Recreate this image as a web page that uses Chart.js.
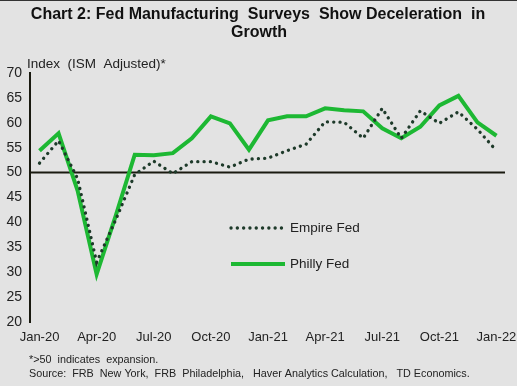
<!DOCTYPE html>
<html>
<head>
<meta charset="utf-8">
<script src="https://cdn.jsdelivr.net/npm/chart.js@4.4.0/dist/chart.umd.min.js"></script>
<style>
  html, body { margin: 0; padding: 0; background: #e3e3e3; }
  #wrap { width: 517px; height: 386px; position: relative; border-top: 1px solid #333; box-sizing: border-box; }
  canvas { display: block; }
</style>
</head>
<body>
<div id="wrap"><canvas id="c" width="517" height="385"></canvas></div>
<script>
const months = ['Jan-20','Feb-20','Mar-20','Apr-20','May-20','Jun-20','Jul-20','Aug-20','Sep-20','Oct-20','Nov-20','Dec-20',
                'Jan-21','Feb-21','Mar-21','Apr-21','May-21','Jun-21','Jul-21','Aug-21','Sep-21','Oct-21','Nov-21','Dec-21','Jan-22'];
const empireFed = [51.9, 56.4, 48.8, 32.0, 40.5, 49.6, 52.3, 49.8, 52.2, 52.2, 51.1, 52.7,
                   52.9, 54.4, 55.7, 60.2, 60.1, 56.9, 62.9, 56.9, 62.4, 59.9, 62.2, 58.7, 54.4];
const phillyFed = [54.4, 57.9, 46.4, 29.6, 41.3, 53.6, 53.5, 53.9, 56.9, 61.3, 59.9, 54.6,
                   60.5, 61.3, 61.3, 62.9, 62.5, 62.3, 58.9, 56.9, 59.2, 63.5, 65.4, 60.1, 57.4];
const yTicks = { min: 20, max: 70, step: 5 };
const refLine = 50;
const titleLines = ['Chart 2: Fed Manufacturing  Surveys  Show Deceleration  in', 'Growth'];
const axisTitle = 'Index  (ISM  Adjusted)*';
const notes = ['*>50  indicates  expansion.', 'Source:  FRB  New York,  FRB  Philadelphia,   Haver Analytics Calculation,   TD Economics.'];

const FONT = '"Liberation Sans", Arial, sans-serif';

const decor = {
  id: 'decor',
  beforeDatasetsDraw(chart) {
    const ctx = chart.ctx, y = chart.scales.y, a = chart.chartArea;
    const py = y.getPixelForValue(refLine);
    ctx.save();
    ctx.strokeStyle = '#1a1a10';
    ctx.lineWidth = 2;
    ctx.beginPath();
    ctx.moveTo(a.left, py);
    ctx.lineTo(a.right - 1, py);
    ctx.stroke();
    ctx.restore();
  },
  afterDraw(chart) {
    const ctx = chart.ctx;
    ctx.save();
    ctx.fillStyle = '#111';
    ctx.textAlign = 'center';
    ctx.textBaseline = 'middle';
    ctx.font = 'bold 16px ' + FONT;
    ctx.fillText(titleLines[0], 258, 14);
    ctx.fillText(titleLines[1], 259, 32);
    ctx.textAlign = 'left';
    ctx.font = '13.5px ' + FONT;
    ctx.fillStyle = '#222';
    ctx.fillText(axisTitle, 27, 63);
    ctx.font = '10.8px ' + FONT;
    ctx.fillText(notes[0], 29, 359);
    ctx.fillText(notes[1], 29, 373);
    const lg = [
      { label: chart.data.datasets[0].label, ds: chart.data.datasets[0], y: 227 },
      { label: chart.data.datasets[1].label, ds: chart.data.datasets[1], y: 263 }
    ];
    lg.forEach(item => {
      ctx.save();
      ctx.strokeStyle = item.ds.borderColor;
      ctx.lineWidth = item.ds.borderWidth;
      ctx.lineCap = item.ds.borderCapStyle || 'butt';
      ctx.setLineDash(item.ds.borderDash || []);
      ctx.beginPath();
      ctx.moveTo(231, item.y);
      ctx.lineTo(285, item.y);
      ctx.stroke();
      ctx.restore();
      ctx.font = '13.5px ' + FONT;
      ctx.fillStyle = '#222';
      ctx.fillText(item.label, 290, item.y);
    });
    ctx.restore();
  }
};

new Chart(document.getElementById('c'), {
  type: 'line',
  data: {
    labels: months,
    datasets: [
      { label: 'Empire Fed', data: empireFed, borderColor: '#1e3a2a', borderWidth: 3.3,
        borderDash: [0.1, 6.2], borderCapStyle: 'round', pointRadius: 0, tension: 0, fill: false },
      { label: 'Philly Fed', data: phillyFed, borderColor: '#1db833', borderWidth: 4,
        borderCapStyle: 'butt', borderJoinStyle: 'miter', pointRadius: 0, tension: 0, fill: false }
    ]
  },
  options: {
    responsive: false,
    animation: false,
    layout: { padding: { top: 72, right: 11, bottom: 36, left: 0 } },
    plugins: { legend: { display: false }, title: { display: false }, tooltip: { enabled: false } },
    scales: {
      x: {
        type: 'category',
        offset: true,
        grid: { display: false, drawTicks: false },
        border: { display: false },
        ticks: {
          autoSkip: false, maxRotation: 0, padding: 8,
          color: '#222', font: { family: FONT, size: 13 },
          callback: function(v, i) { return i % 3 === 0 ? this.getLabelForValue(v) : ''; }
        },
        afterFit(s) { s.height = 28; s.paddingLeft = 0; s.paddingRight = 0; }
      },
      y: {
        min: yTicks.min, max: yTicks.max,
        grid: { display: false, drawTicks: false },
        border: { display: true, color: '#1a1a10', width: 2 },
        ticks: { stepSize: yTicks.step, padding: 8, color: '#222', font: { family: FONT, size: 14 } },
        afterFit(s) { s.width = 30; s.paddingTop = 0; s.paddingBottom = 0; }
      }
    }
  },
  plugins: [decor]
});
</script>
</body>
</html>
